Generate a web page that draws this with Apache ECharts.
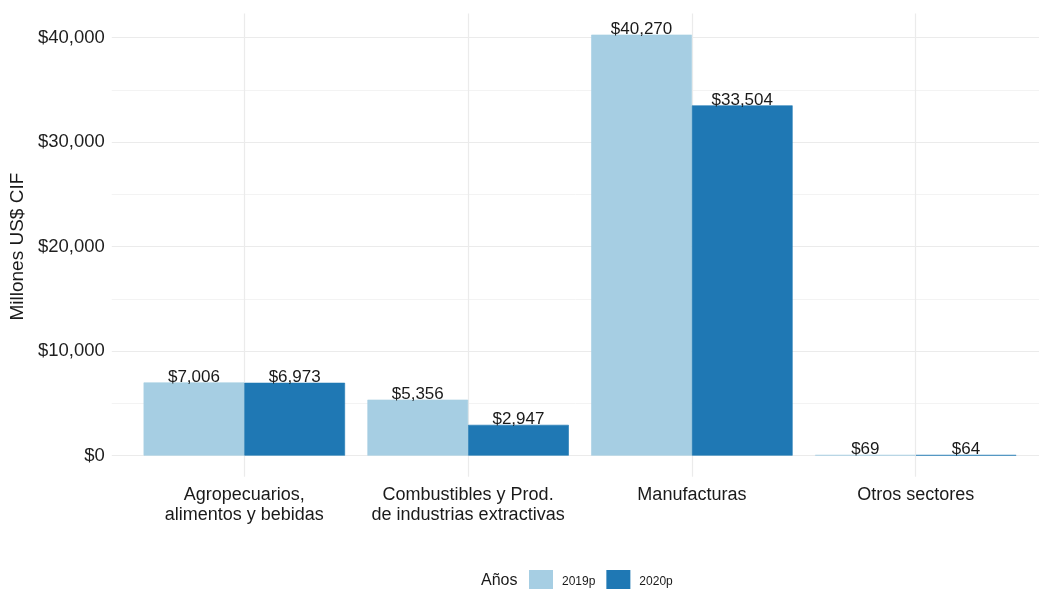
<!DOCTYPE html>
<html>
<head>
<meta charset="utf-8">
<script src="https://cdn.jsdelivr.net/npm/echarts@6/dist/echarts.min.js"></script>
<style>
html,body{margin:0;padding:0;background:#fff;}
#chart{width:1039px;height:589px;}
</style>
</head>
<body>
<div id="chart"></div>
<script>
const categories = ['Agropecuarios,\nalimentos y bebidas', 'Combustibles y Prod.\nde industrias extractivas', 'Manufacturas', 'Otros sectores'];
const seriesNames = ['2019p', '2020p'];
const values2019 = [7006, 5356, 40270, 69];
const values2020 = [6973, 2947, 33504, 64];
const yTicks = [0, 10000, 20000, 30000, 40000];

const FONT = 'Liberation Sans, Arial, Helvetica, sans-serif';
const fmt = v => '$' + Math.round(v).toLocaleString('en-US');

const chart = echarts.init(document.getElementById('chart'), null, {renderer: 'canvas'});
const yMaxData = Math.max(...values2019, ...values2020);
const pad = yMaxData * 0.05;

const barLabel = {
  show: true, position: 'top', distance: -3,
  fontFamily: FONT, fontSize: 17, color: '#1a1a1a',
  formatter: p => fmt(p.value)
};

chart.setOption({
  animation: false,
  textStyle: {fontFamily: FONT},
  title: {
    text: 'Años', left: 476, top: 568,
    textStyle: {fontFamily: FONT, fontSize: 16, fontWeight: 'normal', color: '#1a1a1a'}
  },
  legend: {
    data: seriesNames, left: 529, top: 570, padding: 0,
    itemWidth: 22, itemHeight: 22, itemGap: 11,
    icon: 'rect',
    textStyle: {fontFamily: FONT, fontSize: 12, color: '#1a1a1a', padding: [0, 0, 0, 5]}
  },
  grid: [
    {left: 110.4, right: 0, top: 37.5, height: 418.2, containLabel: false},
    {left: 132.4, right: 11.4, top: 13.6, height: 463.1, containLabel: false}
  ],
  xAxis: [
    {gridIndex: 0, type: 'value', show: false, min: 0, max: 1},
    {gridIndex: 1, type: 'category', data: categories,
     axisLine: {show: false}, axisTick: {show: false}, splitLine: {show: false},
     axisLabel: {interval: 0, margin: 8, fontFamily: FONT, fontSize: 18, lineHeight: 20.5, color: '#1a1a1a', align: 'center'}}
  ],
  yAxis: [
    {gridIndex: 0, type: 'value', min: yTicks[0], max: yTicks[yTicks.length - 1], interval: 10000,
     name: 'Millones US$ CIF', nameLocation: 'middle', nameGap: 83, nameRotate: 90,
     nameTextStyle: {fontFamily: FONT, fontSize: 19, color: '#1a1a1a'},
     axisLine: {show: false}, axisTick: {show: false},
     axisLabel: {margin: 7, fontFamily: FONT, fontSize: 18.5, color: '#1f1f1f', formatter: v => fmt(v)},
     splitLine: {show: true, lineStyle: {color: '#EBEBEB', width: 1.2}},
     minorTick: {show: false, splitNumber: 2},
     minorSplitLine: {show: true, lineStyle: {color: '#F3F3F3', width: 1}}},
    {gridIndex: 1, type: 'value', show: false, min: -pad, max: yMaxData + pad,
     splitLine: {show: false}}
  ],
  series: [
    {name: 'gridlines', type: 'line', xAxisIndex: 1, yAxisIndex: 1, data: [], z: 0, silent: true,
     markLine: {z: 0, silent: true, symbol: 'none', label: {show: false},
       lineStyle: {color: '#EBEBEB', width: 1.2, type: 'solid'},
       data: categories.map(c => ({xAxis: c}))}},
    {name: seriesNames[0], type: 'bar', xAxisIndex: 1, yAxisIndex: 1, data: values2019,
     barGap: '0%', barCategoryGap: '10%', z: 3,
     itemStyle: {color: '#A6CEE3', borderColor: '#A6CEE3', borderWidth: 0.6}, label: barLabel},
    {name: seriesNames[1], type: 'bar', xAxisIndex: 1, yAxisIndex: 1, data: values2020,
     barGap: '0%', barCategoryGap: '10%', z: 3,
     itemStyle: {color: '#1F78B4', borderColor: '#1F78B4', borderWidth: 0.6}, label: barLabel}
  ]
});
</script>
</body>
</html>
